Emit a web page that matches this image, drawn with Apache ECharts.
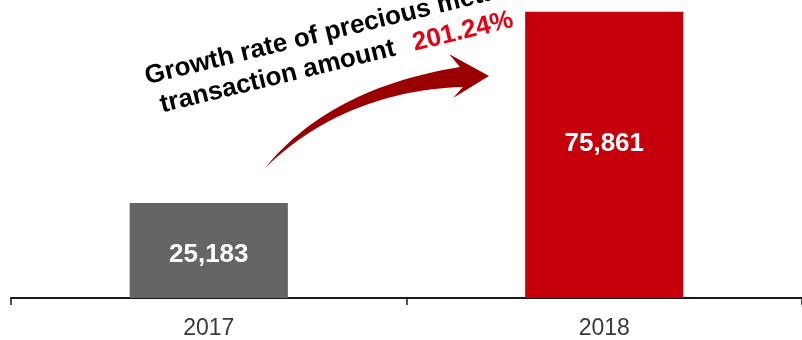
<!DOCTYPE html>
<html>
<head>
<meta charset="utf-8">
<script src="https://cdn.jsdelivr.net/npm/echarts@6/dist/echarts.min.js"></script>
<style>
    html, body { margin: 0; padding: 0; background: #fff; }
    #main { width: 802px; height: 340px; }
</style>
</head>
<body>
<div id="main"></div>
<script>
// 数据
var years = ['2017', '2018'];
var amounts = [25183, 75861];
var barColors = ['#666464', '#c5000b'];
var growthRate = '201.24%';

var chart = echarts.init(document.getElementById('main'));

var font = '"Liberation Sans", Arial, sans-serif';
var rot = 13.7 * Math.PI / 180;

// 二次贝塞尔曲线取点, 用于画弯箭头
function quad(p0, c, p1, n) {
    var pts = [];
    for (var i = 0; i <= n; i++) {
        var t = i / n, u = 1 - t;
        pts.push([
            u * u * p0[0] + 2 * u * t * c[0] + t * t * p1[0],
            u * u * p0[1] + 2 * u * t * c[1] + t * t * p1[1]
        ]);
    }
    return pts;
}
var arrowPts = quad([265, 168], [330, 88], [460, 67], 30)
    .concat([[449, 54], [489, 76], [453, 98]])
    .concat(quad([463, 87], [345, 91], [265, 168], 30));

var option = {
    animation: false,
    grid: {
        left: 11,
        top: 0,
        bottom: 39,
        width: 797
    },
    xAxis: {
        type: 'category',
        data: years,
        axisLine: { lineStyle: { color: '#1a1a1a', width: 2 } },
        axisTick: { show: true, length: 7, lineStyle: { color: '#1a1a1a', width: 1.5 } },
        axisLabel: { color: '#3a3a3a', fontSize: 23, fontFamily: font, margin: 19 }
    },
    yAxis: {
        type: 'value',
        min: 0,
        max: 79000,
        show: false,
        splitLine: { show: false }
    },
    series: [{
        type: 'bar',
        barWidth: '40%',
        data: amounts.map(function (v, i) {
            return {
                value: v,
                itemStyle: { color: barColors[i] },
                label: { offset: [0, i === 0 ? 4 : -11] }
            };
        }),
        label: {
            show: true,
            position: 'inside',
            color: '#fff',
            fontSize: 26,
            fontWeight: 'bold',
            fontFamily: font,
            formatter: function (p) {
                return p.value.toLocaleString('en-US');
            }
        }
    }],
    graphic: [
        // 箭头
        {
            type: 'polygon',
            shape: { points: arrowPts },
            style: { fill: '#9a0000' },
            z: 10
        },
        // 标注文字
        {
            type: 'group',
            x: 147,
            y: 84,
            rotation: rot,
            z: 11,
            children: [
                {
                    type: 'text',
                    x: 0,
                    y: 6,
                    style: {
                        text: 'Growth rate of precious metals',
                        fill: '#000',
                        font: 'bold 26px ' + font,
                        verticalAlign: 'bottom'
                    }
                },
                {
                    type: 'text',
                    x: 8,
                    y: 37,
                    style: {
                        text: 'transaction amount',
                        fill: '#000',
                        font: 'bold 26px ' + font,
                        verticalAlign: 'bottom'
                    }
                },
                {
                    type: 'text',
                    x: 268,
                    y: 37,
                    style: {
                        text: growthRate,
                        fill: '#e60012',
                        font: 'bold 26px ' + font,
                        verticalAlign: 'bottom'
                    }
                }
            ]
        }
    ]
};

chart.setOption(option);
</script>
</body>
</html>
